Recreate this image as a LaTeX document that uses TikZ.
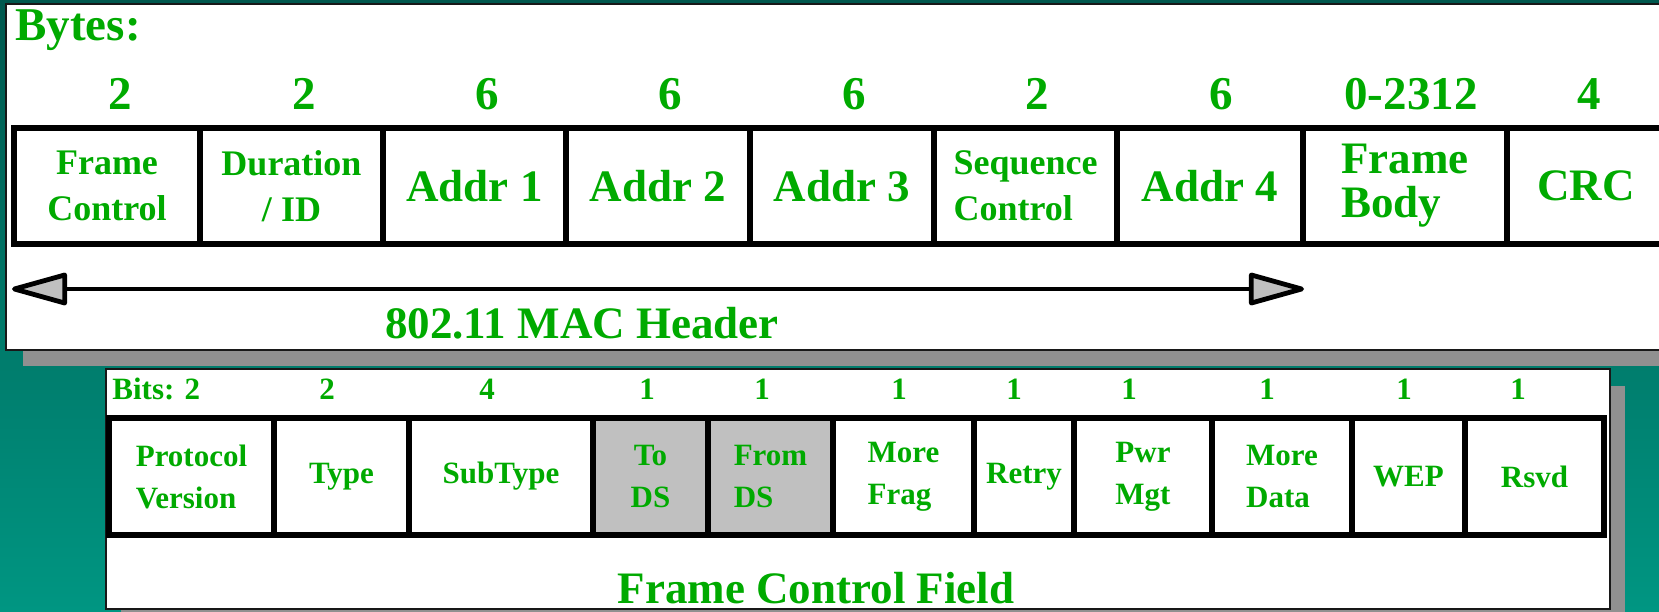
\documentclass[tikz,border=0pt]{standalone}
\usepackage{fontspec}
\setmainfont{Liberation Serif}
\usetikzlibrary{arrows.meta}
\definecolor{fgreen}{RGB}{0,170,0}
\definecolor{tealtop}{RGB}{0,88,78}
\definecolor{tealbot}{RGB}{0,150,130}
\definecolor{shadowgray}{RGB}{144,144,144}
\definecolor{dsgray}{RGB}{192,192,192}
\definecolor{paneledge}{RGB}{24,24,24}

\begin{document}
\begin{tikzpicture}[x=0.5pt, y=-0.5pt, every node/.style={text=fgreen, inner sep=0pt, align=center},
    bytecell/.style={draw=black, line width=2.6pt, minimum height=58pt, font=\fontsize{18}{23}\selectfont\bfseries},
    bigcell/.style={bytecell, font=\fontsize{22.5}{22}\selectfont\bfseries},
    bitcell/.style={draw=black, line width=2.6pt, minimum height=58.5pt, font=\fontsize{15.5}{21}\selectfont\bfseries},
    bignum/.style={font=\fontsize{23.5}{23.5}\selectfont\bfseries},
    smallnum/.style={font=\fontsize{15.5}{15.5}\selectfont\bfseries},
    title/.style={font=\fontsize{22.5}{22.5}\selectfont\bfseries},
    hdrarrow/.style={draw=black, line width=2.2pt, arrows={Triangle[length=31pt,width=16.5pt,fill=dsgray,line width=2.4pt,round]-Triangle[length=31pt,width=16.5pt,fill=dsgray,line width=2.4pt,round]}}]
      \useasboundingbox (0,0) rectangle (1659,611);
      \shade[top color=tealtop, bottom color=tealbot] (0,0) rectangle (1659,611);
      % the two panels and their shadows
      \fill[shadowgray] (23,19) rectangle (1700,366);
      \filldraw[fill=white, draw=paneledge, line width=1.2pt] (6,4) rectangle (1700,350);
      \fill[shadowgray] (121,386) rectangle (1625,640);
      \filldraw[fill=white, draw=paneledge, line width=1.2pt] (106,369) rectangle (1610,609);

      % MAC frame
      \node[bignum, anchor=base west] (bytes) at (15,40) {Bytes:};
      \node[bignum, anchor=base] (b1) at (120,109) {2};
      \node[bignum, anchor=base] (b2) at (304,109) {2};
      \node[bignum, anchor=base] (b3) at (487,109) {6};
      \node[bignum, anchor=base] (b4) at (670,109) {6};
      \node[bignum, anchor=base] (b5) at (854,109) {6};
      \node[bignum, anchor=base] (b6) at (1037,109) {2};
      \node[bignum, anchor=base] (b7) at (1221,109) {6};
      \node[bignum, anchor=base] (b8) at (1411,109) {0-2312};
      \node[bignum, anchor=base] (b9) at (1589,109) {4};

      \node[bytecell, minimum width=93pt] (fc) at (107,186) {Frame\\Control};
      \node[bytecell, minimum width=91.5pt] (dur) at (291.5,186) {Duration\\/ ID};
      \node[bigcell, minimum width=91.5pt] (a1) at (474.5,186) {Addr 1};
      \node[bigcell, minimum width=92pt] (a2) at (658,186) {Addr 2};
      \node[bigcell, minimum width=92pt] (a3) at (842,186) {Addr 3};
      \node[bytecell, align=left, minimum width=91.5pt] (seq) at (1025.5,186) {Sequence\\Control};
      \node[bigcell, minimum width=93pt] (a4) at (1210,186) {Addr 4};
      \node[bigcell, align=left, minimum width=102pt] (body) at (1405,186) {Frame\\Body};
      \node[bigcell, minimum width=79pt] (crc) at (1586,186) {CRC};

      \coordinate (hl) at (12,289);
      \coordinate (hr) at (1304,289);
      \draw[hdrarrow] (hl) -- (hr);
      \node[title, anchor=base] (mac) at (582,338) {802.11 MAC Header};

      % frame control field
      \node[smallnum, anchor=base west] (bits) at (112,399) {Bits: 2};
      \node[smallnum, anchor=base] (t2) at (327,399) {2};
      \node[smallnum, anchor=base] (t3) at (487,399) {4};
      \node[smallnum, anchor=base] (t4) at (647,399) {1};
      \node[smallnum, anchor=base] (t5) at (762,399) {1};
      \node[smallnum, anchor=base] (t6) at (899,399) {1};
      \node[smallnum, anchor=base] (t7) at (1014,399) {1};
      \node[smallnum, anchor=base] (t8) at (1129,399) {1};
      \node[smallnum, anchor=base] (t9) at (1267,399) {1};
      \node[smallnum, anchor=base] (t10) at (1404,399) {1};
      \node[smallnum, anchor=base] (t11) at (1518,399) {1};

      \node[bitcell, align=left, minimum width=82.5pt] (pv) at (191.5,476.5) {Protocol\\Version};
      \node[bitcell, minimum width=67.5pt] (type) at (341.5,476.5) {Type};
      \node[bitcell, minimum width=92pt] (sub) at (501,476.5) {SubType};
      \node[bitcell, fill=dsgray, minimum width=57.5pt] (tods) at (650.5,476.5) {To\\DS};
      \node[bitcell, fill=dsgray, align=left, minimum width=62.5pt] (fromds) at (770.5,476.5) {From\\DS};
      \node[bitcell, align=left, minimum width=70.5pt] (mfrag) at (903.5,476.5) {More\\Frag};
      \node[bitcell, minimum width=50pt] (retry) at (1024,476.5) {Retry};
      \node[bitcell, align=left, minimum width=69pt] (pwr) at (1143,476.5) {Pwr\\Mgt};
      \node[bitcell, align=left, minimum width=70pt] (mdata) at (1282,476.5) {More\\Data};
      \node[bitcell, minimum width=56.5pt] (wep) at (1408.5,476.5) {WEP};
      \node[bitcell, minimum width=69.5pt] (rsvd) at (1534.5,476.5) {Rsvd};
      \node[title, anchor=base] (fcf) at (816,603) {Frame Control Field};
    \end{tikzpicture}
\end{document}
